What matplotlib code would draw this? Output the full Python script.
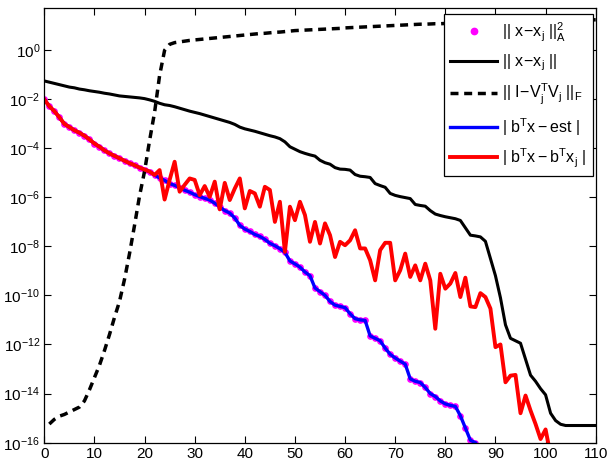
import numpy as np
import matplotlib
matplotlib.use("Agg")
import matplotlib.pyplot as plt

# ---- data (log10 values) ----
j_est = np.arange(0, 87)
log_est = [-2.02, -2.30, -2.50, -2.75, -3.02, -3.15, -3.28, -3.38, -3.50, -3.65,
           -3.82, -3.95, -4.10, -4.22, -4.32, -4.42, -4.52, -4.62, -4.70, -4.80,
           -4.88, -4.96, -5.10, -5.22, -5.32, -5.45, -5.52, -5.62, -5.72, -5.80,
           -5.90, -5.98, -6.05, -6.12, -6.25, -6.40, -6.55, -6.65, -6.85, -7.15,
           -7.30, -7.40, -7.52, -7.60, -7.72, -7.88, -7.98, -8.10, -8.25, -8.60,
           -8.72, -8.85, -9.05, -9.20, -9.70, -9.85, -10.00, -10.25, -10.40, -10.45,
           -10.50, -10.75, -10.95, -11.00, -11.02, -11.65, -11.75, -11.85, -12.15, -12.40,
           -12.55, -12.68, -12.80, -13.40, -13.50, -13.55, -13.75, -14.00, -14.12, -14.30,
           -14.42, -14.48, -14.52, -14.90, -15.40, -15.90, -16.00]

j_red = np.arange(0, 102)
log_red = [-2.02, -2.30, -2.50, -2.75, -3.02, -3.15, -3.28, -3.38, -3.50, -3.65,
           -3.82, -3.95, -4.10, -4.22, -4.32, -4.42, -4.52, -4.62, -4.70, -4.80,
           -4.88, -4.96, -5.10, -4.90, -6.10, -5.30, -4.56, -5.78, -5.50, -5.24,
           -5.30, -5.92, -5.55, -5.99, -5.37, -6.50, -5.42, -6.12, -5.65, -5.24,
           -6.46, -5.75, -5.85, -6.39, -5.58, -5.71, -7.01, -6.19, -8.23, -6.39,
           -6.94, -6.19, -6.73, -7.82, -7.01, -7.89, -7.07, -7.55, -8.44, -7.82,
           -7.96, -7.76, -7.35, -8.09, -8.09, -8.57, -9.39, -8.16, -7.86, -7.86,
           -9.39, -8.98, -8.30, -9.25, -8.78, -9.39, -8.71, -9.39, -11.36, -9.12,
           -9.73, -9.52, -9.09, -10.07, -9.28, -10.45, -10.48, -9.91, -10.07, -10.54,
           -12.11, -12.00, -13.54, -13.27, -13.24, -14.80, -14.08, -14.69, -15.24, -15.85,
           -15.46, -16.50]

j_err = np.arange(0, 111)
log_err = [-1.27, -1.32, -1.37, -1.42, -1.47, -1.52, -1.55, -1.60, -1.63, -1.67,
           -1.70, -1.73, -1.77, -1.80, -1.84, -1.88, -1.90, -1.92, -1.94, -1.96,
           -1.99, -2.04, -2.10, -2.18, -2.24, -2.27, -2.32, -2.38, -2.44, -2.50,
           -2.55, -2.60, -2.66, -2.72, -2.78, -2.84, -2.90, -2.96, -3.04, -3.15,
           -3.22, -3.27, -3.32, -3.38, -3.44, -3.50, -3.55, -3.62, -3.75, -3.95,
           -4.05, -4.15, -4.22, -4.28, -4.33, -4.50, -4.60, -4.66, -4.80, -4.86,
           -4.87, -4.90, -5.08, -5.15, -5.17, -5.20, -5.45, -5.53, -5.60, -5.85,
           -5.93, -5.98, -6.02, -6.06, -6.30, -6.34, -6.37, -6.55, -6.69, -6.75,
           -6.80, -6.84, -6.88, -6.95, -7.25, -7.55, -7.58, -7.62, -7.80, -8.50,
           -9.20, -10.10, -11.20, -11.75, -11.85, -11.95, -12.60, -13.25, -13.50, -13.80,
           -14.05, -14.80, -15.10, -15.25, -15.30, -15.30, -15.30, -15.30, -15.30, -15.30,
           -15.30]

j_orth = np.arange(1, 111)
log_orth = [-15.24, -15.05, -14.92, -14.85, -14.75, -14.65, -14.55, -14.30, -13.85,
            -13.35, -12.85, -12.25, -11.60, -10.90, -10.25, -9.35, -8.30, -7.15, -5.95,
            -4.95, -3.70, -2.55, -1.05, -0.02, 0.22, 0.29, 0.32, 0.35, 0.38,
            0.40, 0.42, 0.44, 0.46, 0.48, 0.50, 0.52, 0.54, 0.56, 0.58,
            0.60, 0.62, 0.64, 0.66, 0.67, 0.69, 0.71, 0.72, 0.74, 0.76,
            0.78, 0.79, 0.80, 0.81, 0.82, 0.83, 0.84, 0.85, 0.86, 0.87,
            0.89, 0.90, 0.91, 0.92, 0.93, 0.94, 0.95, 0.96, 0.97, 0.98,
            0.99, 1.00, 1.01, 1.02, 1.03, 1.04, 1.04, 1.05, 1.06, 1.06,
            1.07, 1.075, 1.08, 1.085, 1.09, 1.095, 1.10, 1.105, 1.11, 1.115,
            1.12, 1.125, 1.13, 1.135, 1.14, 1.145, 1.15, 1.155, 1.16, 1.165,
            1.17, 1.175, 1.18, 1.185, 1.19, 1.195, 1.20, 1.205, 1.21, 1.215,
            1.22]

labels = [r'$||\ \mathrm{x\!-\!x_j}\ ||^2_\mathrm{A}$',
          r'$||\ \mathrm{x\!-\!x_j}\ ||$',
          r'$||\ \mathrm{I\!-\!V_j^TV_j}\ ||_\mathrm{F}$',
          r'$|\ \mathrm{b^Tx - est}\ |$',
          r'$|\ \mathrm{b^Tx - b^Tx_j}\ |$']

xticks = list(range(0, 111, 10))
yexp = list(range(-16, 1, 2))

# ---- style ----
plt.rcParams['font.family'] = ['Liberation Sans', 'DejaVu Sans']
plt.rcParams['mathtext.fontset'] = 'custom'
plt.rcParams['mathtext.rm'] = 'Liberation Sans'
plt.rcParams['mathtext.it'] = 'Liberation Sans'
plt.rcParams['mathtext.bf'] = 'Liberation Sans:bold'

fig = plt.figure(figsize=(6.09, 4.61), dpi=100)
W, H = 609, 461
x0, x1, y0, y1 = 44.3, 595.7, 8.0, 442.7
ax = fig.add_axes([x0 / W, 1 - y1 / H, (x1 - x0) / W, (y1 - y0) / H])

ax.semilogy(j_est, 10.0 ** np.array(log_est), linestyle='none', marker='o',
            markersize=3.8, color='#ff00ff', mec='#ff00ff', mew=1.0, label=labels[0])
ax.semilogy(j_err, 10.0 ** np.array(log_err), color='black', lw=2.2, label=labels[1])
ax.semilogy(j_orth, 10.0 ** np.array(log_orth), color='black', lw=2.5,
            linestyle=(0, (2.3, 1.64)), label=labels[2])
ax.semilogy(j_est, 10.0 ** np.array(log_est), color='#0000ff', lw=2.4, label=labels[3])
ax.semilogy(j_red, 10.0 ** np.array(log_red), color='#ff0000', lw=2.8, label=labels[4])

ax.set_xlim(0, 110)
ax.set_ylim(1e-16, 10 ** 1.7)
ax.set_xticks(xticks)
ax.set_yticks([10.0 ** e for e in yexp])
ax.set_yticklabels([r'$\mathrm{10^{%d}}$' % e for e in yexp])
ax.minorticks_off()
ax.tick_params(direction='in', top=True, right=True, length=5, width=0.8,
               labelsize=11, pad=3)
for s in ax.spines.values():
    s.set_linewidth(0.9)

leg = ax.legend(loc='upper left', bbox_to_anchor=(0.725, 0.986), fontsize=11.5,
                fancybox=False, edgecolor='black', framealpha=1, borderaxespad=0,
                handlelength=2.9, handletextpad=0.35, labelspacing=0.55,
                borderpad=0.4, numpoints=1, markerscale=1.2)
leg.get_frame().set_linewidth(0.9)

fig.savefig('out.png', dpi=100)
